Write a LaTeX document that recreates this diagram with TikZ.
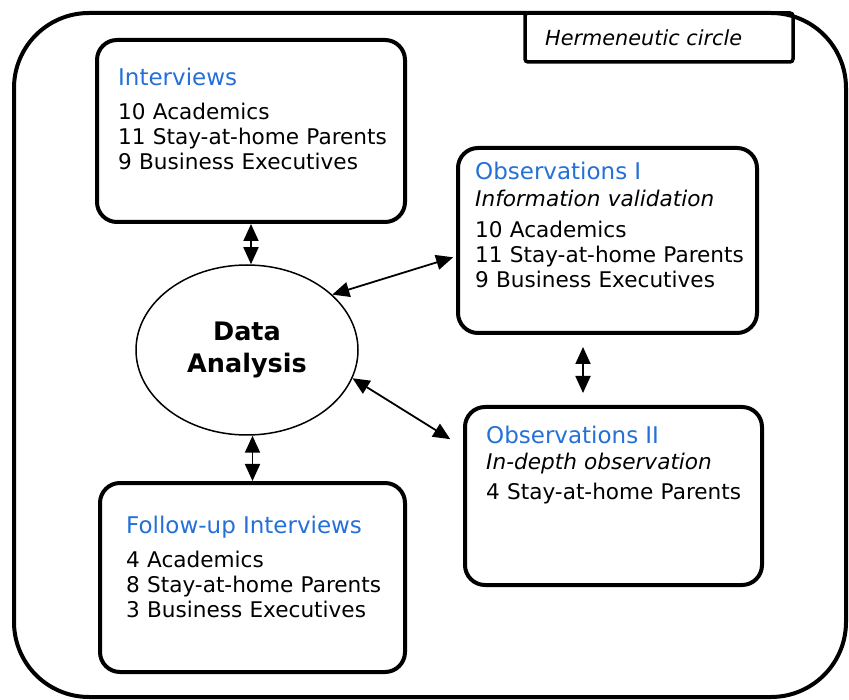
\documentclass[tikz,border=0pt]{standalone}
\usepackage{fontspec}
\setmainfont{DejaVu Sans}
\usetikzlibrary{arrows.meta,shapes.geometric}
\definecolor{TitleBlue}{HTML}{2470D8}
\tikzset{
    frame/.style = {draw, line width=4pt, rounded corners=75pt},
    block/.style = {draw, rectangle, line width=4pt, rounded corners=20pt, inner sep=0pt},
    tag/.style = {draw, rectangle, line width=3.5pt, rounded corners=3pt, inner sep=0pt},
    blocktext/.style = {anchor=base west, inner sep=0pt, text width=300pt, align=left,
        font=\fontsize{21.6}{25}\selectfont},
    analysis/.style = {draw, ellipse, line width=1.5pt, minimum width=222pt, minimum height=170pt,
        inner sep=0pt, align=center, font=\bfseries\fontsize{25.5}{32}\selectfont},
    arrow/.style = {draw, {Triangle[length=17pt,width=15pt]}-{Triangle[length=17pt,width=15pt]},
        line width=1.8pt}
}
\newcommand{\blocktitle}[1]{{\color{TitleBlue}\fontsize{23}{25}\selectfont #1}}

\begin{document}
\begin{tikzpicture}[x=1pt,y=-1pt]
    \useasboundingbox (0,0) rectangle (849,700);
    % hermeneutic circle
    \draw[frame] (14,13) rectangle (846,697);
    \node[tag, minimum width=268pt, minimum height=49pt] (herm) at (659,37.5) {};
    \node[anchor=base west, inner sep=0pt, font=\itshape\fontsize{20.8}{24}\selectfont] (hermtext) at (545,46) {Hermeneutic circle};

    % boxes
    \node[block, minimum width=308pt, minimum height=182pt] (intv) at (251,131) {};
    \node[block, minimum width=299pt, minimum height=185pt] (obsA) at (607.5,240.5) {};
    \node[block, minimum width=297pt, minimum height=178pt] (obsB) at (613.5,496) {};
    \node[block, minimum width=305pt, minimum height=189pt] (fup) at (252.5,577.5) {};
    \node[analysis] (da) at (247,350) {Data\\Analysis};

    \node[blocktext] (intvtext) at (118,86) {\blocktitle{Interviews}\\[9pt]
        10 Academics\\ 11 Stay-at-home Parents\\ 9 Business Executives};
    \node[blocktext] (obsAtext) at (475,180) {\blocktitle{Observations I}\\[2pt]
        \textit{Information validation}\\[6pt]
        10 Academics\\ 11 Stay-at-home Parents\\ 9 Business Executives};
    \node[blocktext] (obsBtext) at (486,443) {\blocktitle{Observations II}\\[2pt]
        \textit{In-depth observation}\\[5pt]
        4 Stay-at-home Parents};
    \node[blocktext] (fuptext) at (126,533) {\blocktitle{Follow-up Interviews}\\[9pt]
        4 Academics\\ 8 Stay-at-home Parents\\ 3 Business Executives};

    % links
    \coordinate (link) at (583,370);
    \draw[arrow] (intv.south) -- (intv.south |- da.north);
    \draw[arrow] (fup.north) -- (fup.north |- da.south);
    \draw[arrow, shorten >=3pt] (da.33) -- (obsA.186);
    \draw[arrow, shorten >=15pt] (da.345) -- (obsB.162);
    \draw[arrow, shorten <=12pt, shorten >=12pt] (obsA.south -| link) -- (obsB.north -| link);
\end{tikzpicture}
\end{document}
